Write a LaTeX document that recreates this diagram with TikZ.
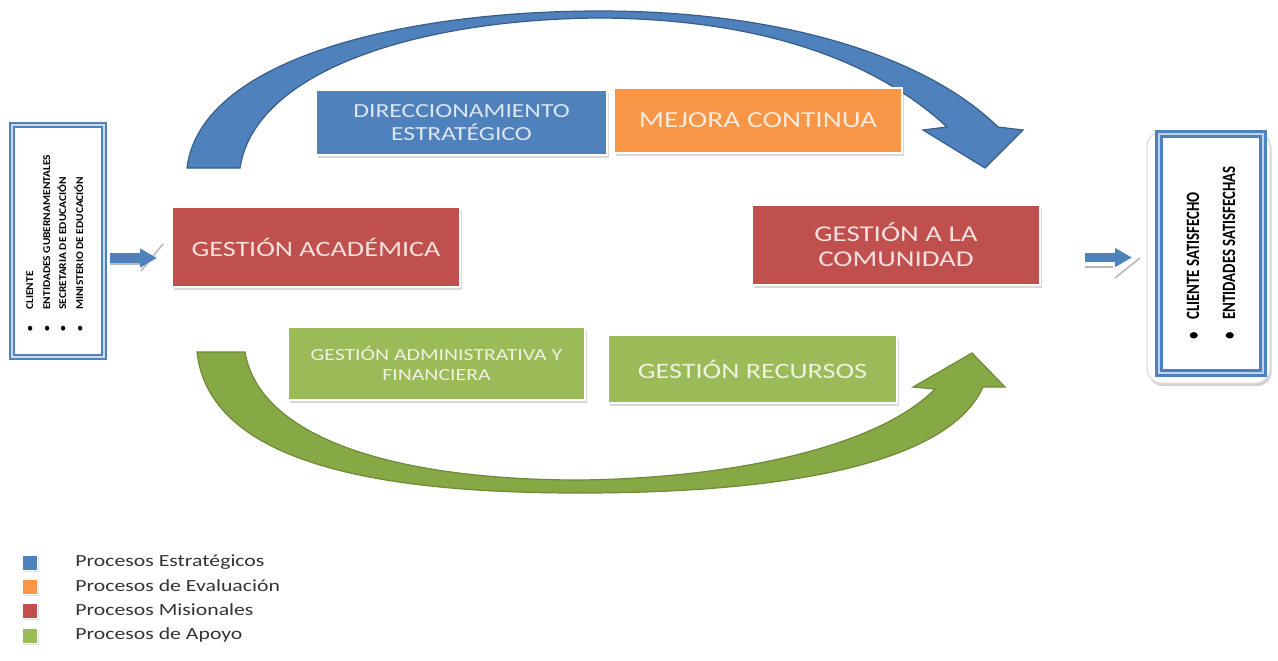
\documentclass[tikz,border=0pt]{standalone}
\usepackage{fontspec}
\setmainfont{Carlito}
\newfontfamily\wf[FakeStretch=1.28]{Carlito}
\newfontfamily\nf[FakeStretch=0.79]{Carlito}
\newfontfamily\lf[FakeStretch=1.1]{Carlito}
\usetikzlibrary{shadows,arrows.meta}
\definecolor{cblue}{HTML}{4F81BD}
\definecolor{cbluedk}{HTML}{385D8A}
\definecolor{corange}{HTML}{F79646}
\definecolor{cred}{HTML}{C0504D}
\definecolor{cgreen}{HTML}{9BBB59}
\definecolor{cgreendk}{HTML}{6F8A38}
\definecolor{carcgreen}{HTML}{86A845}
\definecolor{tblue}{HTML}{DCE6F2}
\definecolor{torange}{HTML}{FDEADA}
\definecolor{tred}{HTML}{F6E0DF}
\definecolor{tgreen}{HTML}{EEF3E2}
\tikzset{
  procbox/.style={rectangle, inner sep=0pt, outer sep=0pt, draw=white, line width=0.6pt, align=center,
    drop shadow={opacity=0.3, shadow xshift=1pt, shadow yshift=-1.3pt}},
  stratbox/.style={procbox, fill=cblue, text=tblue},
  evalbox/.style={procbox, fill=corange, text=torange},
  misbox/.style={procbox, fill=cred, text=tred},
  apoyobox/.style={procbox, fill=cgreen, text=tgreen},
  legsq/.style={rectangle, minimum size=7.5pt, inner sep=0pt, outer sep=0pt, draw=white, line width=0.5pt,
    drop shadow={opacity=0.25, shadow xshift=0.6pt, shadow yshift=-0.6pt}},
  legtxt/.style={anchor=west, inner sep=0pt, font=\wf\fontsize{8.5}{10}\selectfont, text=black!80},
  vtxt/.style={rotate=90, anchor=base west, inner sep=0pt, text=black},
  lefttxt/.style={vtxt, font=\lf\bfseries\fontsize{5.2}{6}\selectfont},
  righttxt/.style={vtxt, font=\nf\bfseries\fontsize{9.4}{10}\selectfont},
  flowarrow/.style={line width=4.8pt, draw=cblue, -{Triangle[length=8.5pt,width=9pt]}},
  arrowshade/.style={draw=gray!55, line width=0.8pt},
  bigarcblue/.style={fill=cblue, draw=cbluedk, line width=0.6pt},
  bigarcgreen/.style={fill=carcgreen, draw=cgreendk, line width=0.6pt},
}
\begin{document}
\begin{tikzpicture}[x=0.5pt,y=-0.5pt]
\fill[white] (0,0) rectangle (1278,660);
\useasboundingbox (0,0) rectangle (1278,660);

% big curved arrows
\path[bigarcblue] (187,168) .. controls (200,60) and (400,11) .. (600,11)
  .. controls (790,11) and (930,60) .. (998,127) -- (1023,130) -- (985,168) -- (923,130) -- (947,127)
  .. controls (880,65) and (770,19) .. (600,18)
  .. controls (420,19) and (255,70) .. (240,168) -- cycle;
\path[bigarcgreen] (197,352) .. controls (210,470) and (400,493) .. (580,493)
  .. controls (800,493) and (950,460) .. (983,387) -- (1005,387) -- (972,353) -- (913,387) -- (935,389)
  .. controls (880,445) and (740,478) .. (580,480)
  .. controls (400,480) and (260,440) .. (245,352) -- cycle;

% process boxes
\node[misbox, minimum width=144pt, minimum height=40pt, font=\wf\fontsize{11}{13}\selectfont]
  (acad) at (316,247) {GESTIÓN ACADÉMICA};
\node[stratbox, minimum width=145.5pt, minimum height=32.5pt, font=\wf\fontsize{10}{11.5}\selectfont]
  (direc) at (461.5,122.5) {DIRECCIONAMIENTO\\ESTRATÉGICO};
\node[evalbox, minimum width=144pt, minimum height=32.5pt, font=\wf\fontsize{11.5}{13}\selectfont]
  (mejora) at (758,120.5) {MEJORA CONTINUA};
\node[misbox, minimum width=144pt, minimum height=40pt, font=\wf\fontsize{11.3}{12.5}\selectfont]
  (comun) at (896,245) {GESTIÓN A LA\\COMUNIDAD};
\node[apoyobox, minimum width=148.5pt, minimum height=36.5pt, font=\wf\fontsize{8.5}{10}\selectfont]
  (admin) at (436.5,363.5) {GESTIÓN ADMINISTRATIVA Y\\FINANCIERA};
\node[apoyobox, minimum width=144.5pt, minimum height=34pt, font=\wf\fontsize{11}{13}\selectfont]
  (recursos) at (752.5,369) {GESTIÓN RECURSOS};

% left input box
\node[rectangle, minimum width=46pt, minimum height=116pt, inner sep=0pt, outer sep=0pt, fill=white,
  draw=cblue, line width=1.1pt, double=cblue!30, double distance=1.2pt] (leftbox) at (58,241) {};
\node[lefttxt] (l1) at (33,332) {\makebox[11pt][l]{\textbullet}CLIENTE};
\node[lefttxt] (l2) at (50,332) {\makebox[11pt][l]{\textbullet}ENTIDADES GUBERNAMENTALES};
\node[lefttxt] (l3) at (66,332) {\makebox[11pt][l]{\textbullet}SECRETARIA DE EDUCACIÓN};
\node[lefttxt] (l4) at (83,332) {\makebox[11pt][l]{\textbullet}MINISTERIO DE EDUCACIÓN};

% right output box
\node[rectangle, rounded corners=7pt, minimum width=61.5pt, minimum height=125.5pt, inner sep=0pt, outer sep=0pt,
  fill=white, draw=gray!30, line width=0.5pt,
  drop shadow={opacity=0.35, shadow xshift=0.8pt, shadow yshift=-1.5pt}] (rbox) at (1208.5,257.5) {};
\node[rectangle, minimum width=52pt, minimum height=119.5pt, inner sep=0pt, outer sep=0pt,
  draw=cblue, line width=1.4pt, double=cblue!35, double distance=1.3pt] (rframe) at (1211,253.5) {};
\node[righttxt] (r1) at (1199,340) {\makebox[10pt][l]{\textbullet}CLIENTE SATISFECHO};
\node[righttxt] (r2) at (1235,340) {\makebox[10pt][l]{\textbullet}ENTIDADES SATISFECHAS};

% small flow arrows
\draw[arrowshade] (110,264) -- (140,264);
\draw[arrowshade] (141,271) -- (163,244);
\draw[flowarrow, shorten <=3pt, shorten >=7.5pt] ([yshift=-8.5pt]leftbox.east) -- ([yshift=-8.5pt]leftbox.east -| acad.west);
\draw[arrowshade] (1085,267) -- (1113,267);
\draw[arrowshade] (1115,278) -- (1140,258);
\draw[flowarrow, shorten <=22.5pt, shorten >=7.5pt] ([yshift=-6.25pt]comun.east) -- ([yshift=-6.25pt]comun.east -| rbox.west);

% legend
\node[legsq, fill=cblue] (sq1) at (30,563) {};
\node[legsq, fill=corange] (sq2) at (30,587) {};
\node[legsq, fill=cred] (sq3) at (30,611) {};
\node[legsq, fill=cgreen] (sq4) at (30,636) {};
\node[legtxt] (t1) at (75,562) {Procesos Estratégicos};
\node[legtxt] (t2) at (75,586) {Procesos de Evaluación};
\node[legtxt] (t3) at (75,610) {Procesos Misionales};
\node[legtxt] (t4) at (75,635) {Procesos de Apoyo};
\end{tikzpicture}
\end{document}
